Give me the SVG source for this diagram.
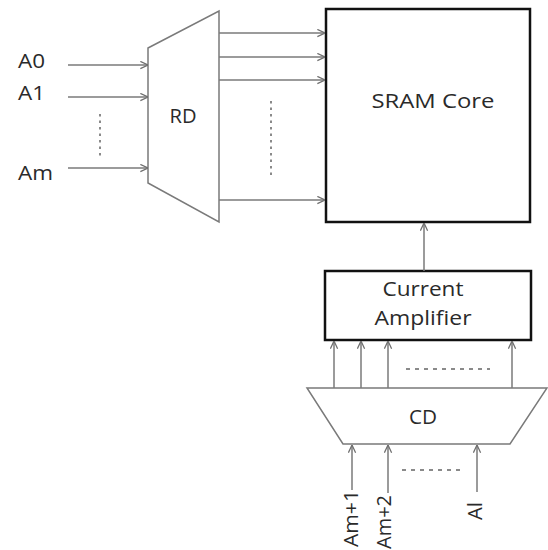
<svg xmlns="http://www.w3.org/2000/svg" width="548" height="550" viewBox="0 0 548 550">
<defs>
<marker id="arr" viewBox="0 0 10 10" refX="9.5" refY="5" markerWidth="9" markerHeight="9" markerUnits="userSpaceOnUse" orient="auto">
<path d="M1,1 L9.5,5 L1,9" fill="none" stroke="#6e6e6e" stroke-width="1.4"/>
</marker>
<style>
.ar{stroke:#7a7a7a;stroke-width:1.5;fill:none;marker-end:url(#arr)}
.dot{stroke:#8a8a8a;stroke-width:2;stroke-dasharray:2.5 4;fill:none}
.box{fill:#fff;stroke:#111;stroke-width:2.5}
.trap{fill:#fff;stroke:#7a7a7a;stroke-width:1.5}
.t{font-family:"Open Sans","Noto Sans",sans-serif;font-size:20px;font-weight:500;fill:#2a2a2a}
</style>
</defs>
<rect width="548" height="550" fill="#fff"/>
<g id="rd">
<polygon class="trap" points="148,48 219,11 219,222 148,183"/>
<text class="t" x="183" y="123" text-anchor="middle" textLength="27" lengthAdjust="spacingAndGlyphs">RD</text>
</g>
<g id="sram">
<rect class="box" x="326" y="9" width="204" height="213"/>
<text class="t" x="433" y="108" text-anchor="middle" textLength="123" lengthAdjust="spacingAndGlyphs">SRAM Core</text>
</g>
<g id="amp">
<rect class="box" x="325" y="271" width="206" height="69"/>
<text class="t" x="423" y="296" text-anchor="middle" textLength="81" lengthAdjust="spacingAndGlyphs">Current</text>
<text class="t" x="423" y="325" text-anchor="middle" textLength="97" lengthAdjust="spacingAndGlyphs">Amplifier</text>
</g>
<g id="cd">
<polygon class="trap" points="307,388 547,388 510,444 343,444"/>
<text class="t" x="423" y="424" text-anchor="middle" textLength="28" lengthAdjust="spacingAndGlyphs">CD</text>
</g>
<g id="labels">
<text class="t" x="18" y="68" textLength="27" lengthAdjust="spacingAndGlyphs">A0</text>
<text class="t" x="18" y="100" textLength="27" lengthAdjust="spacingAndGlyphs">A1</text>
<text class="t" x="18" y="180" textLength="35" lengthAdjust="spacingAndGlyphs">Am</text>
<text class="t" transform="translate(358,547) rotate(-90)" textLength="57" lengthAdjust="spacingAndGlyphs">Am+1</text>
<text class="t" transform="translate(391,549) rotate(-90)" textLength="54" lengthAdjust="spacingAndGlyphs">Am+2</text>
<text class="t" transform="translate(482,520) rotate(-90)" textLength="18" lengthAdjust="spacingAndGlyphs">Al</text>
</g>
<g id="connectors">
<line class="ar" x1="68" y1="65" x2="148" y2="65"/>
<line class="ar" x1="68" y1="97" x2="148" y2="97"/>
<line class="ar" x1="68" y1="168" x2="148" y2="168"/>
<line class="dot" x1="100" y1="114" x2="100" y2="158"/>
<line class="ar" x1="219" y1="33" x2="325" y2="33"/>
<line class="ar" x1="219" y1="57" x2="325" y2="57"/>
<line class="ar" x1="219" y1="80" x2="325" y2="80"/>
<line class="ar" x1="219" y1="200" x2="325" y2="200"/>
<line class="dot" x1="271" y1="101" x2="271" y2="177"/>
<line class="ar" x1="424" y1="271" x2="424" y2="223"/>
<line class="ar" x1="334" y1="388" x2="334" y2="341"/>
<line class="ar" x1="361" y1="388" x2="361" y2="341"/>
<line class="ar" x1="388" y1="388" x2="388" y2="341"/>
<line class="ar" x1="512" y1="388" x2="512" y2="341"/>
<line class="dot" x1="406" y1="369" x2="490" y2="369" style="stroke-dasharray:4 5"/>
<line class="ar" x1="352" y1="490" x2="352" y2="445"/>
<line class="ar" x1="388" y1="493" x2="388" y2="445"/>
<line class="ar" x1="477" y1="492" x2="477" y2="445"/>
<line class="dot" x1="402" y1="470" x2="465" y2="470" style="stroke-dasharray:4 5"/>
</g>
</svg>
